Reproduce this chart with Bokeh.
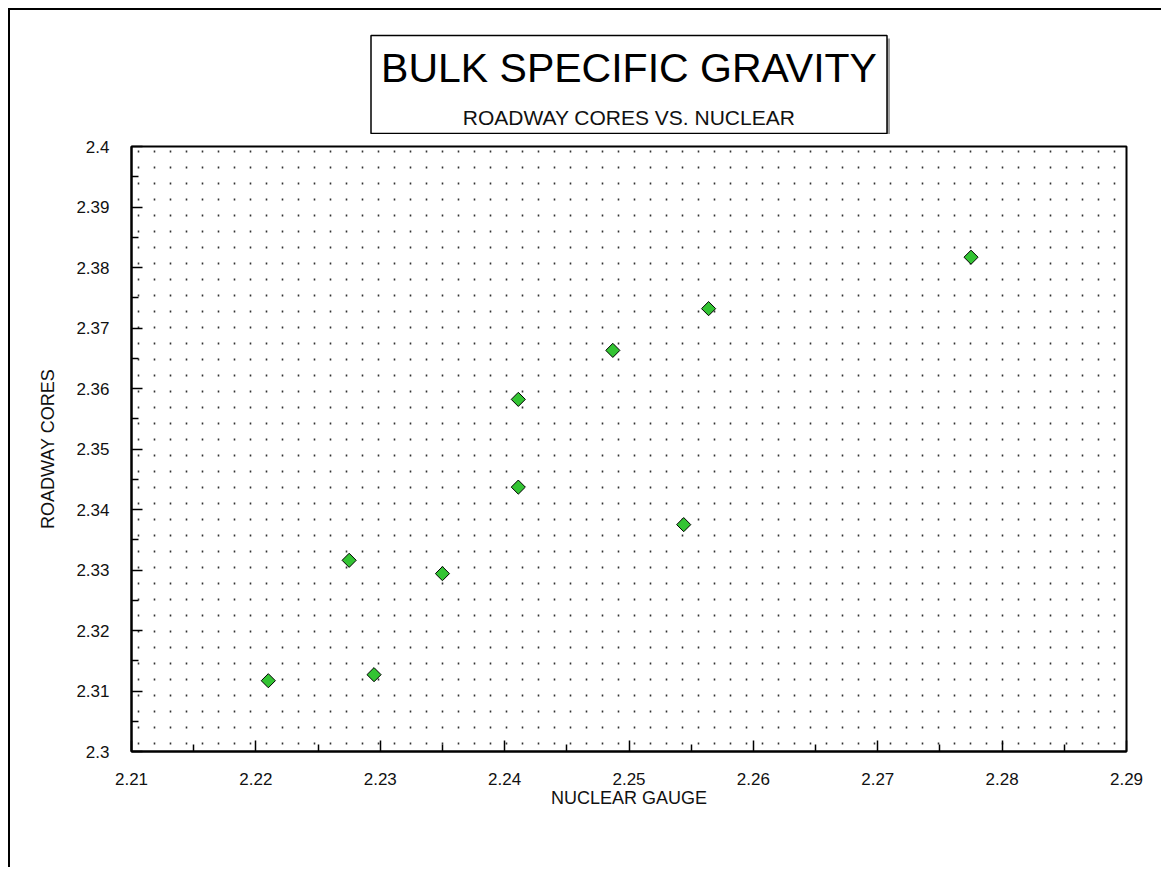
import numpy as np
from bokeh.plotting import figure
from bokeh.layouts import column
from bokeh.models import FixedTicker, NumeralTickFormatter, Range1d
from bokeh.core.properties import value
from bokeh.embed import file_html
from bokeh.resources import INLINE

# ---- texts ----
title_text = "BULK SPECIFIC GRAVITY"
subtitle_text = "ROADWAY CORES VS. NUCLEAR"
x_label = "NUCLEAR GAUGE"
y_label = "ROADWAY CORES"

# ---- data ----
nuclear = [2.2210, 2.2275, 2.2295, 2.2350, 2.2411, 2.2411, 2.2487, 2.2544, 2.2564, 2.2775]
cores = [2.3117, 2.3316, 2.3127, 2.3294, 2.3582, 2.3437, 2.3663, 2.3375, 2.3732, 2.3817]

# ---- axes ----
x_start, x_end = 2.21, 2.29
y_start, y_end = 2.30, 2.40
x_ticks = [2.21, 2.22, 2.23, 2.24, 2.25, 2.26, 2.27, 2.28, 2.29]
y_ticks = [2.30, 2.31, 2.32, 2.33, 2.34, 2.35, 2.36, 2.37, 2.38, 2.39, 2.40]
x_minor = [2.215, 2.225, 2.235, 2.245, 2.255, 2.265, 2.275, 2.285]
y_minor = [2.305, 2.315, 2.325, 2.335, 2.345, 2.355, 2.365, 2.375, 2.385, 2.395]

FONT = "Liberation Sans"
FW, FH = 995, 605
BL, BR, BT, BB = 121, 35, 12, 116
TITLE_H = 124

# ---------- title strip (box with two lines of text) ----------
t = figure(frame_width=FW, frame_height=TITLE_H,
           min_border_left=BL, min_border_right=BR, min_border_top=0, min_border_bottom=0,
           x_range=Range1d(0, FW), y_range=Range1d(0, TITLE_H),
           output_backend="svg", toolbar_location=None, tools="")
t.axis.visible = False
t.grid.visible = False
t.outline_line_color = None
t.background_fill_color = "white"
t.border_fill_color = "white"
cx = FW / 2
box_w, box_top, box_bot = 516, 99, 1
# shadow on the right / bottom edge
t.quad(left=[cx - box_w / 2 + 3], right=[cx + box_w / 2 + 3], top=[box_top - 3], bottom=[box_bot - 3],
       fill_color="#a0a0a0", line_color=None)
t.quad(left=[cx - box_w / 2], right=[cx + box_w / 2], top=[box_top], bottom=[box_bot],
       fill_color="white", line_color="black", line_width=1.5)
t.text(x=[cx], y=[67], text=[title_text], text_align="center", text_baseline="middle",
       text_font=value(FONT), text_font_size="41px", text_color="black")
t.text(x=[cx], y=[17], text=[subtitle_text], text_align="center", text_baseline="middle",
       text_font=value(FONT), text_font_size="21px", text_color="#111111")

# ---------- main scatter plot ----------
p = figure(frame_width=FW, frame_height=FH,
           min_border_left=BL, min_border_right=BR, min_border_top=BT, min_border_bottom=BB,
           x_range=Range1d(x_start, x_end), y_range=Range1d(y_start, y_end),
           output_backend="svg", toolbar_location=None, tools="")
p.background_fill_color = "white"
p.border_fill_color = "white"
p.outline_line_color = "black"
p.outline_line_width = 2

# dotted background: vertical dashed grid lines every 16 px
px_per_unit = FW / (x_end - x_start)
dot_x = [x_start + (6.6 + 16 * k) / px_per_unit for k in range(62)]
p.xgrid.ticker = FixedTicker(ticks=dot_x)
p.xgrid.grid_line_color = "#333333"
p.xgrid.grid_line_width = 1.6
p.xgrid.grid_line_dash = "2 14"
p.xgrid.grid_line_dash_offset = 9
p.ygrid.grid_line_color = None

p.xaxis.ticker = FixedTicker(ticks=x_ticks, minor_ticks=x_minor)
p.yaxis.ticker = FixedTicker(ticks=y_ticks, minor_ticks=y_minor)
p.xaxis.formatter = NumeralTickFormatter(format="0.0[0]")
p.yaxis.formatter = NumeralTickFormatter(format="0.0[0]")
p.xaxis.axis_label = x_label
p.yaxis.axis_label = y_label

for ax in (p.xaxis[0], p.yaxis[0]):
    ax.axis_line_color = "black"
    ax.axis_line_width = 2
    ax.major_tick_in = 11
    ax.major_tick_out = 0
    ax.minor_tick_in = 7
    ax.minor_tick_out = 0
    ax.major_tick_line_color = "black"
    ax.minor_tick_line_color = "black"
    ax.major_tick_line_width = 1.5
    ax.minor_tick_line_width = 1.5
    ax.major_label_text_font = FONT
    ax.major_label_text_font_size = "17px"
    ax.major_label_text_color = "#111111"
    ax.axis_label_text_font = FONT
    ax.axis_label_text_font_size = "18px"
    ax.axis_label_text_font_style = "normal"
    ax.axis_label_text_color = "#111111"

p.yaxis.major_label_standoff = 22
p.yaxis.axis_label_standoff = 15
p.xaxis.major_label_standoff = 21
p.xaxis.axis_label_standoff = 0

p.scatter(nuclear, cores, marker="square", angle=np.pi / 4, size=10,
          fill_color="#33c433", line_color="black", line_width=1)

layout = column(t, p, spacing=0)
layout.styles = {"margin-left": "8px", "margin-top": "8px",
                 "border-left": "2px solid black", "border-top": "2px solid black"}

open("out.html", "w").write(file_html(layout, INLINE))
